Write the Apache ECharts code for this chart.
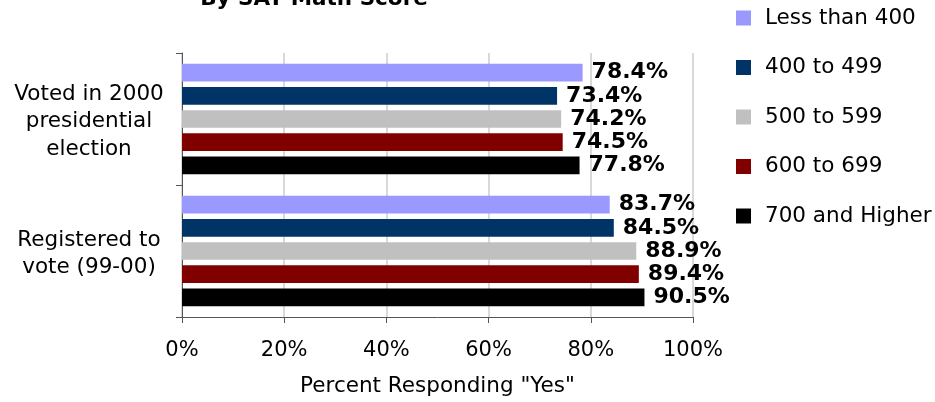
<!DOCTYPE html>
<html>
<head>
<meta charset="utf-8">
<script src="https://cdn.jsdelivr.net/npm/echarts@6/dist/echarts.min.js"></script>
<style>
  html, body { margin: 0; padding: 0; background: #fff; }
  #chart { width: 935px; height: 402px; }
</style>
</head>
<body>
<div id="chart"></div>
<script>
// Civic participation by SAT math score band
const categories = ['Voted in 2000\npresidential\nelection', 'Registered to\nvote (99-00)'];
const scoreBands = ['Less than 400', '400 to 499', '500 to 599', '600 to 699', '700 and Higher'];
const bandColors = ['#9999ff', '#003366', '#c0c0c0', '#800000', '#000000'];
const lessThan400 = [78.4, 83.7];
const from400to499 = [73.4, 84.5];
const from500to599 = [74.2, 88.9];
const from600to699 = [74.5, 89.4];
const from700up = [77.8, 90.5];
const xTicks = [0, 20, 40, 60, 80, 100];

const seriesValues = [lessThan400, from400to499, from500to599, from600to699, from700up];
const FONT = 'DejaVu Sans, Verdana, sans-serif';

const chart = echarts.init(document.getElementById('chart'));
chart.setOption({
  animation: false,
  title: {
    text: 'By SAT Math Score',
    left: 309,
    textAlign: 'center',
    top: -17,
    textStyle: { fontFamily: FONT, fontSize: 21.5, fontWeight: 'bold', color: '#000' }
  },
  legend: {
    orient: 'vertical',
    left: 731,
    top: 2,
    itemWidth: 15,
    itemHeight: 15,
    itemGap: 27.5,
    icon: 'rect',
    data: scoreBands,
    textStyle: { fontFamily: FONT, fontSize: 21.5, color: '#000', lineHeight: 21, padding: [0, 0, 0, 9] }
  },
  grid: { left: 182, right: 242, top: 53, bottom: 85, containLabel: false, outerBoundsMode: 'none' },
  xAxis: {
    type: 'value',
    min: xTicks[0],
    max: xTicks[xTicks.length - 1],
    interval: 20,
    name: 'Percent Responding "Yes"',
    nameLocation: 'middle',
    nameGap: 58,
    nameTextStyle: { fontFamily: FONT, fontSize: 21.5, color: '#000' },
    axisLine: { show: true, lineStyle: { color: '#555', width: 1 } },
    axisTick: { show: true, length: 6, lineStyle: { color: '#555' } },
    axisLabel: { formatter: '{value}%', margin: 23, fontFamily: FONT, fontSize: 21, color: '#000' },
    splitLine: { show: true, lineStyle: { color: '#cccccc', width: 1.5 } }
  },
  yAxis: {
    type: 'category',
    inverse: true,
    data: categories,
    axisLine: { show: true, lineStyle: { color: '#555', width: 1 } },
    axisTick: { show: true, length: 6, lineStyle: { color: '#555' } },
    axisLabel: {
      align: 'center', margin: 93,
      formatter: v => v.split('\n').map(s => '{c|' + s + '}').join('\n'),
      rich: {
        c: { fontFamily: FONT, fontSize: 21.5, color: '#000', lineHeight: 27.5, verticalAlign: 'bottom' }
      }
    }
  },
  series: scoreBands.map((name, i) => ({
    name: name,
    type: 'bar',
    data: seriesValues[i],
    barWidth: 17.7,
    barGap: '31%',
    itemStyle: { color: bandColors[i] },
    label: {
      show: true,
      position: 'right',
      distance: 9,
      formatter: p => p.value.toFixed(1) + '%',
      fontFamily: FONT,
      fontSize: 22,
      fontWeight: 'bold',
      color: '#000'
    }
  }))
});
</script>
</body>
</html>
